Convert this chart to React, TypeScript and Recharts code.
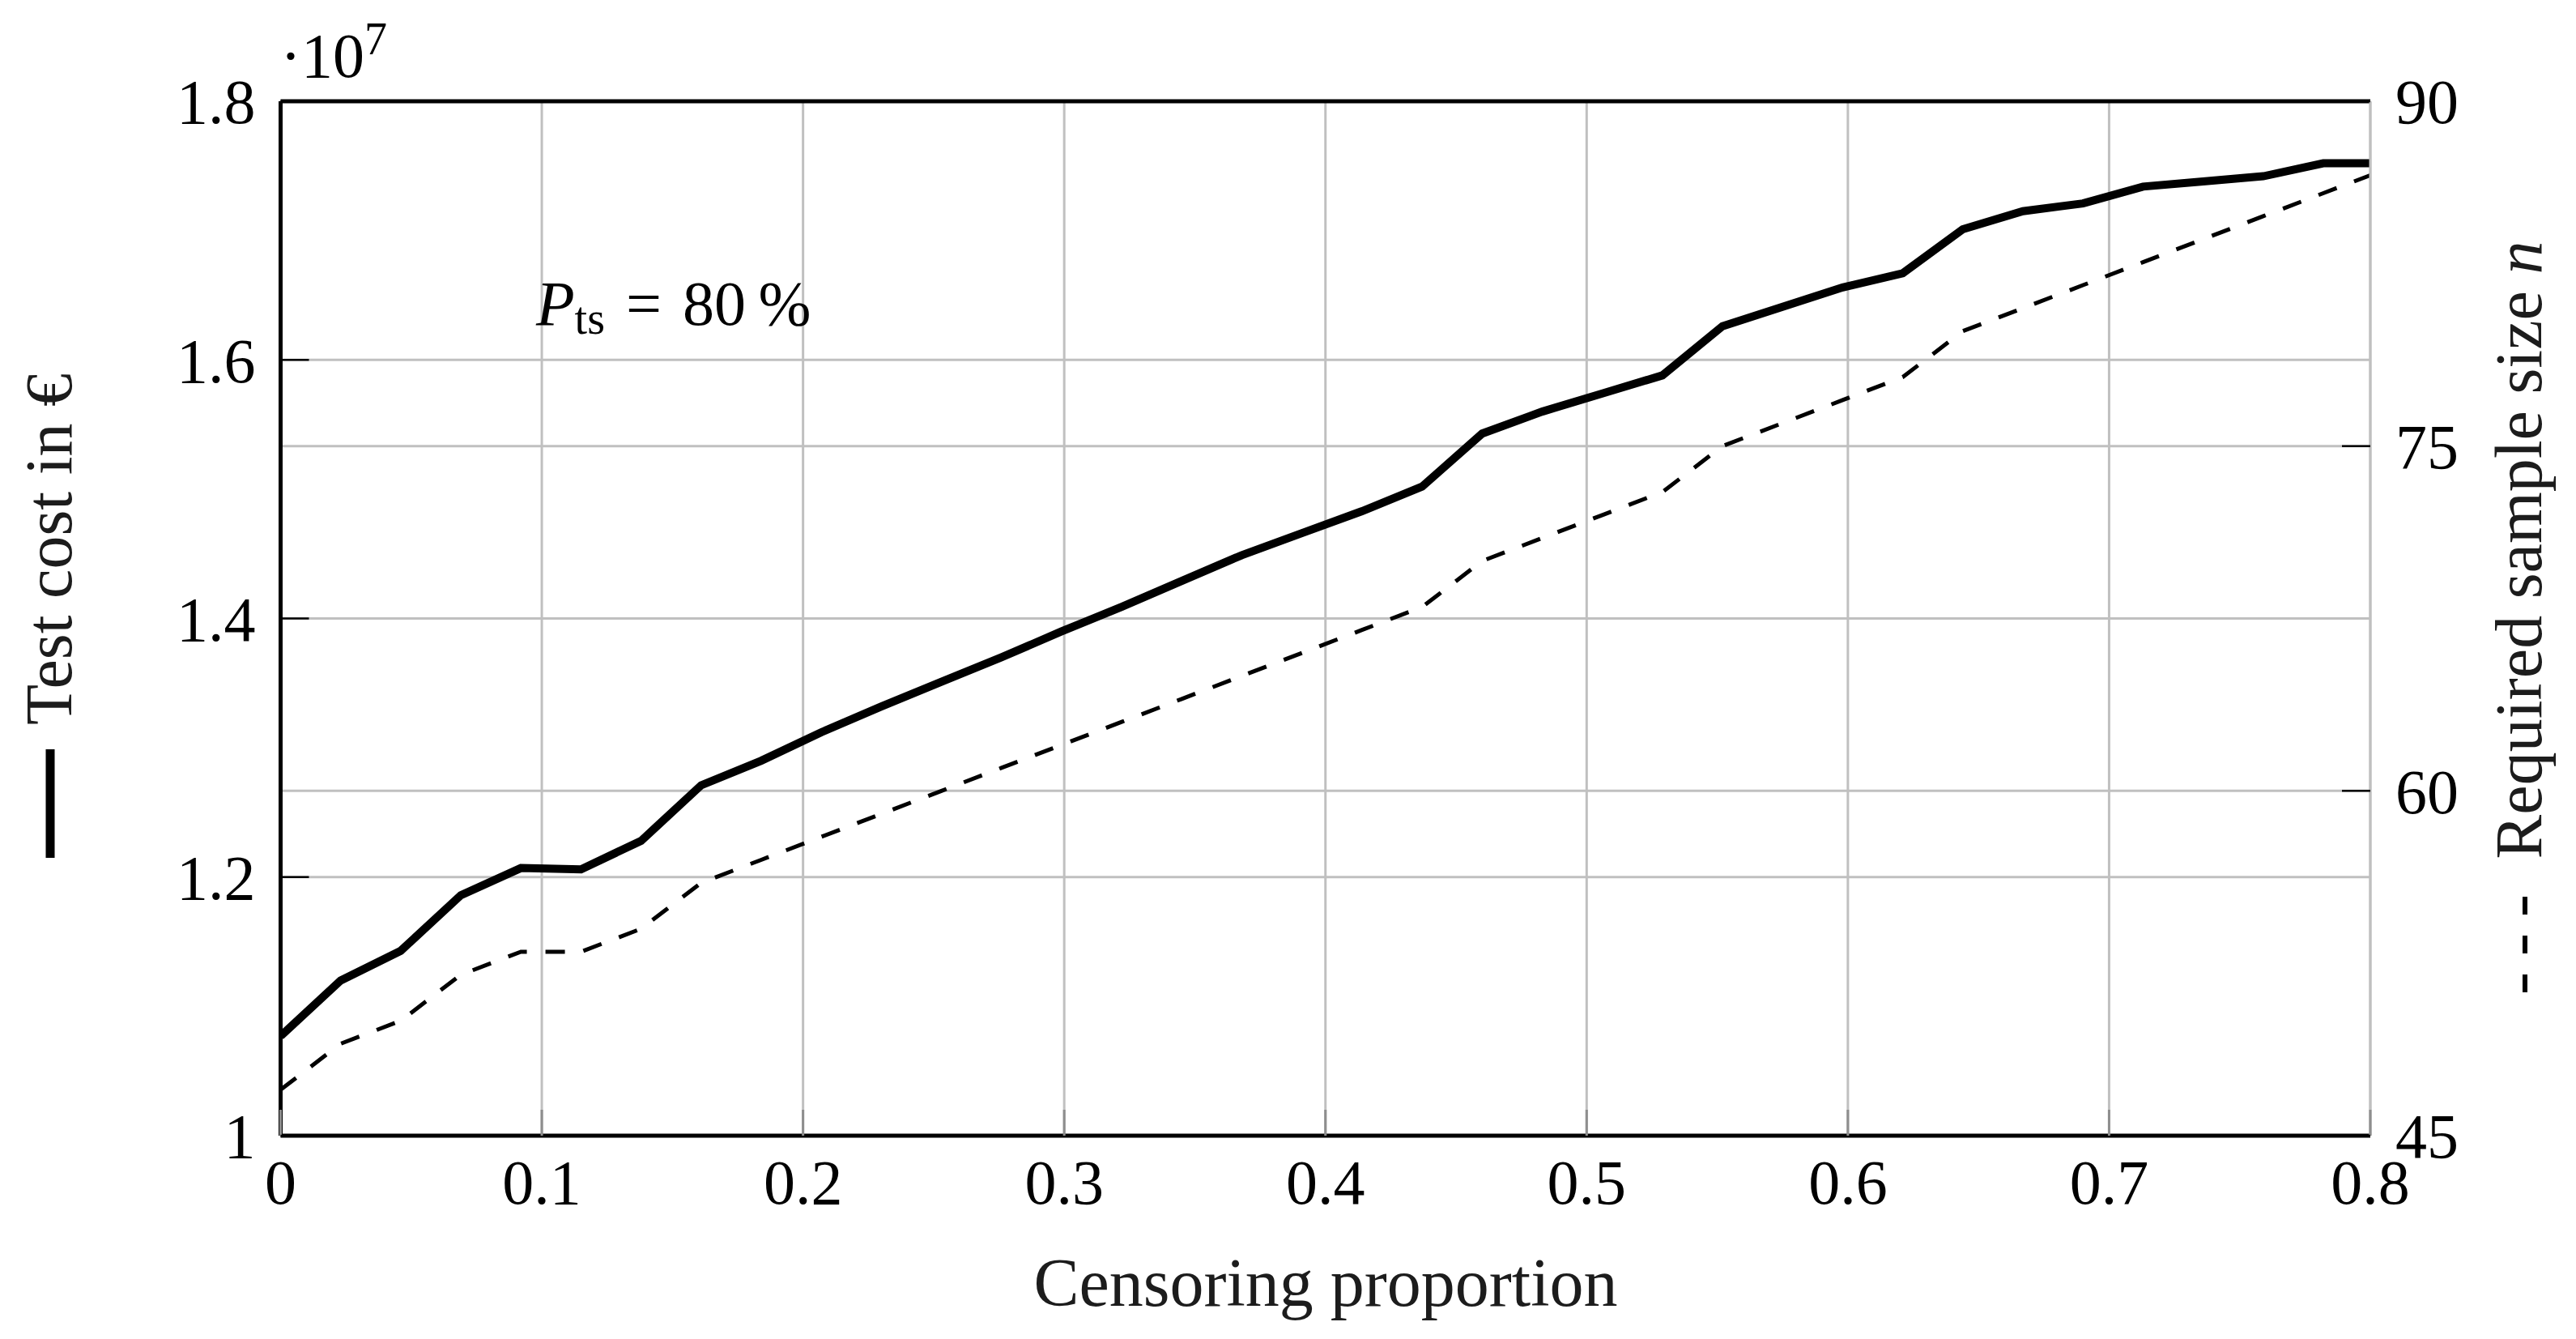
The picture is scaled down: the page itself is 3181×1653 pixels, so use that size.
import {
  LineChart,
  Line,
  XAxis,
  YAxis,
  CartesianGrid,
  ReferenceLine,
  ReferenceDot,
} from 'recharts'

// censoring proportion (x) and the two series
const censoring = [
  0, 0.023, 0.046, 0.069, 0.092, 0.115, 0.138, 0.161, 0.184, 0.207, 0.23, 0.253,
  0.276, 0.299, 0.322, 0.345, 0.368, 0.391, 0.414, 0.437, 0.46, 0.483, 0.506,
  0.529, 0.552, 0.575, 0.598, 0.621, 0.644, 0.667, 0.69, 0.713, 0.736, 0.759,
  0.782, 0.805,
]

// test cost, in units of 1e7 €
const testCost = [
  1.077, 1.12, 1.143, 1.186, 1.207, 1.206, 1.228, 1.271, 1.29, 1.312, 1.332,
  1.351, 1.37, 1.39, 1.409, 1.429, 1.449, 1.466, 1.483, 1.502, 1.543, 1.56,
  1.574, 1.588, 1.626, 1.641, 1.656, 1.667, 1.701, 1.715, 1.721, 1.734, 1.738,
  1.742, 1.752, 1.752,
]

// required sample size n
const sampleSize = [
  47, 49, 50, 52, 53, 53, 54, 56, 57, 58, 59, 60, 61, 62, 63, 64, 65, 66, 67, 68,
  70, 71, 72, 73, 75, 76, 77, 78, 80, 81, 82, 83, 84, 85, 86, 87,
]

const xTicks = [0, 0.1, 0.2, 0.3, 0.4, 0.5, 0.6, 0.7, 0.8]
const costTicks = [1, 1.2, 1.4, 1.6, 1.8]
const sizeTicks = [45, 60, 75, 90]

const annotation = { x: 0.0978, y: 1.627 }

const data = censoring.map((x, i) => ({ x, cost: testCost[i], n: sampleSize[i] }))

const FONT = '"Liberation Serif", "Times New Roman", serif'
const GRID = '#c0c0c0'

function XTick(props: any) {
  const { x, y, payload } = props
  return (
    <g>
      <line x1={x} x2={x} y1={y} y2={y - 32} stroke="#8e8e8e" strokeWidth={3} />
      <text x={x} y={y + 84} textAnchor="middle" fontSize={78} fontFamily={FONT} fill="#000">
        {String(payload.value)}
      </text>
    </g>
  )
}

function LeftTick(props: any) {
  const { x, y, payload } = props
  return (
    <g>
      <line x1={x} x2={x + 35} y1={y} y2={y} stroke="#000" strokeWidth={2.5} />
      <text x={x - 31} y={y} dy="0.35em" textAnchor="end" fontSize={78} fontFamily={FONT} fill="#000">
        {String(payload.value)}
      </text>
    </g>
  )
}

function RightTick(props: any) {
  const { x, y, payload } = props
  return (
    <g>
      <line x1={x - 35} x2={x} y1={y} y2={y} stroke="#000" strokeWidth={2.5} />
      <text x={x + 31} y={y} dy="0.35em" textAnchor="start" fontSize={78} fontFamily={FONT} fill="#000">
        {String(payload.value)}
      </text>
    </g>
  )
}

function LeftLabel() {
  return (
    <g>
      <text
        transform="translate(80 670) rotate(-90)"
        textAnchor="middle"
        fontSize={82}
        fontFamily={FONT}
        fill="#1c1c1c"
      >
        Test cost in €
      </text>
      <line x1={54} x2={54} y1={917} y2={1051} stroke="#000" strokeWidth={11} />
      <text x={338} y={87} fontSize={78} fontFamily={FONT} fill="#000">
        ·10
        <tspan dy={-28} fontSize={56}>
          7
        </tspan>
      </text>
    </g>
  )
}

function RightLabel() {
  return (
    <g>
      <text
        transform="translate(3130 671) rotate(-90)"
        textAnchor="middle"
        fontSize={82}
        fontFamily={FONT}
        fill="#1c1c1c"
      >
        Required sample size <tspan fontStyle="italic">n</tspan>
      </text>
      <line
        x1={3110}
        x2={3110}
        y1={1217}
        y2={1077}
        stroke="#000"
        strokeWidth={6}
        strokeDasharray="22 26"
      />
    </g>
  )
}

function BottomLabel() {
  return (
    <text x={1629} y={1604} textAnchor="middle" fontSize={84} fontFamily={FONT} fill="#1c1c1c">
      Censoring proportion
    </text>
  )
}

function Annotation(props: any) {
  const { cx, cy } = props
  return (
    <text x={cx} y={cy} fontSize={78} fontFamily={FONT} fill="#000">
      <tspan fontStyle="italic">P</tspan>
      <tspan fontSize={56} dy={11}>
        ts
      </tspan>
      <tspan dy={-11}>{'\u2004=\u200480\u2009%'}</tspan>
    </text>
  )
}

export default function App() {
  return (
    <div style={{ width: 3160, height: 1630, background: '#fff' }}>
      <LineChart
        width={3160}
        height={1630}
        data={data}
        margin={{ top: 117, right: 0, bottom: 0, left: 0 }}
      >
        <CartesianGrid yAxisId="left" stroke={GRID} strokeWidth={3} />
        <CartesianGrid yAxisId="right" vertical={false} stroke={GRID} strokeWidth={3} />
        <XAxis
          dataKey="x"
          type="number"
          domain={[0, 0.8]}
          ticks={xTicks}
          allowDataOverflow
          height={236}
          tickSize={0}
          tickMargin={0}
          tickLine={false}
          tick={XTick}
          axisLine={{ stroke: '#000', strokeWidth: 5 }}
          label={{ content: BottomLabel }}
        />
        <YAxis
          yAxisId="left"
          orientation="left"
          type="number"
          domain={[1, 1.8]}
          ticks={costTicks}
          width={338.5}
          tickSize={0}
          tickMargin={0}
          tickLine={false}
          tick={LeftTick}
          axisLine={{ stroke: '#000', strokeWidth: 5 }}
          label={{ content: LeftLabel }}
        />
        <YAxis
          yAxisId="right"
          orientation="right"
          type="number"
          domain={[45, 90]}
          ticks={sizeTicks}
          width={241}
          tickSize={0}
          tickMargin={0}
          tickLine={false}
          tick={RightTick}
          axisLine={{ stroke: GRID, strokeWidth: 3 }}
          label={{ content: RightLabel }}
        />
        <ReferenceLine yAxisId="left" y={1.8} stroke="#000" strokeWidth={5} ifOverflow="visible" />
        <Line
          yAxisId="right"
          type="linear"
          dataKey="n"
          stroke="#000"
          strokeWidth={5}
          strokeDasharray="24 23"
          dot={false}
          activeDot={false}
          isAnimationActive={false}
        />
        <Line
          yAxisId="left"
          type="linear"
          dataKey="cost"
          stroke="#000"
          strokeWidth={10}
          dot={false}
          activeDot={false}
          isAnimationActive={false}
        />
        <ReferenceDot
          yAxisId="left"
          x={annotation.x}
          y={annotation.y}
          r={0}
          shape={Annotation}
        />
      </LineChart>
    </div>
  )
}
